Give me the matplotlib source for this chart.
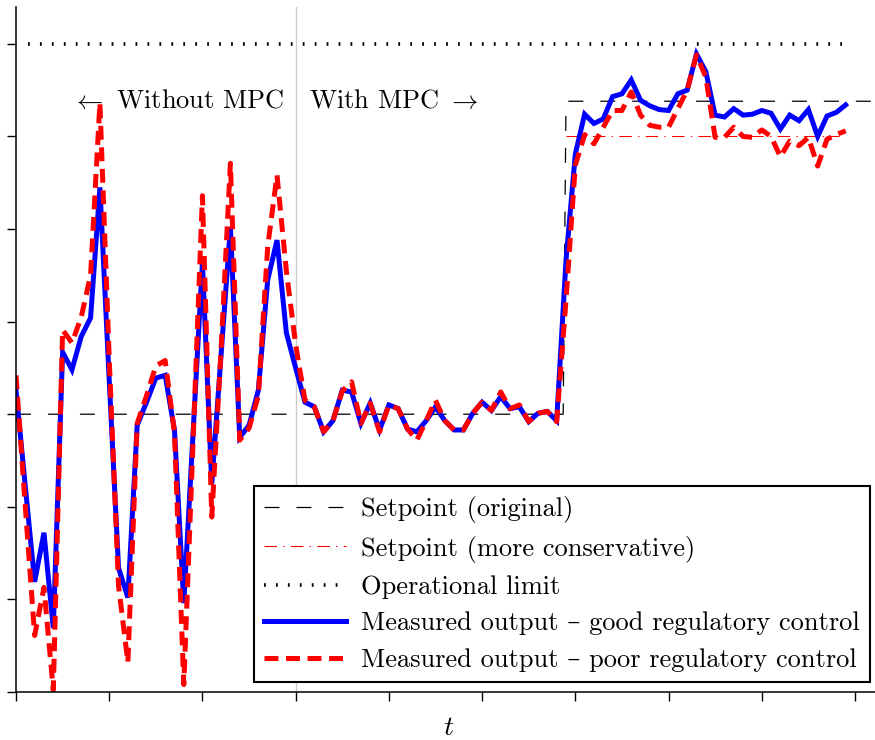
import matplotlib
matplotlib.use("Agg")
import matplotlib.pyplot as plt
import numpy as np

plt.rcParams['font.family'] = ['cmr10', 'DejaVu Serif']
plt.rcParams['mathtext.fontset'] = 'cm'
plt.rcParams['axes.unicode_minus'] = False
plt.rcParams['lines.scale_dashes'] = False

# ---- data ----
t = list(range(0, 90))
good = [0.26, -0.78, -1.81, -1.28, -2.31, 0.67, 0.48, 0.84, 1.04, 2.45,
        0.37, -1.66, -1.98, -0.12, 0.13, 0.39, 0.42, -0.17, -2.04, -0.19,
        1.64, -0.75, 0.64, 2.02, -0.25, -0.12, 0.26, 1.45, 1.88, 0.88,
        0.50, 0.13, 0.08, -0.19, -0.07, 0.26, 0.24, -0.10, 0.12, -0.17,
        0.10, 0.06, -0.16, -0.19, -0.07, 0.08, -0.07, -0.17, -0.17, 0.01,
        0.13, 0.04, 0.19, 0.06, 0.08, -0.08, 0.01, 0.03, -0.07, 1.66,
        2.81, 3.24, 3.14, 3.19, 3.43, 3.46, 3.61, 3.39, 3.33, 3.29,
        3.28, 3.46, 3.50, 3.89, 3.70, 3.23, 3.21, 3.30, 3.23, 3.24,
        3.28, 3.25, 3.08, 3.23, 3.17, 3.29, 3.00, 3.22, 3.26, 3.34]
poor = [0.42, -1.00, -2.39, -1.87, -2.98, 0.91, 0.77, 1.05, 1.50, 3.36,
        0.60, -1.85, -2.68, -0.10, 0.20, 0.52, 0.58, -0.20, -2.92, -0.28,
        2.36, -1.11, 0.70, 2.71, -0.28, -0.15, 0.20, 1.81, 2.58, 1.55,
        0.75, 0.15, 0.08, -0.19, -0.07, 0.25, 0.35, -0.10, 0.12, -0.19,
        0.10, 0.06, -0.16, -0.28, -0.07, 0.15, -0.07, -0.17, -0.17, 0.01,
        0.13, 0.04, 0.24, 0.06, 0.10, -0.08, 0.01, 0.03, -0.08, 1.23,
        2.69, 3.02, 2.92, 3.10, 3.28, 3.28, 3.48, 3.23, 3.12, 3.10,
        3.10, 3.30, 3.50, 3.88, 3.64, 2.99, 2.99, 3.10, 3.00, 2.99,
        3.07, 3.00, 2.78, 2.95, 2.90, 2.99, 2.68, 2.97, 3.02, 3.06]
sp_orig_t = [0, 58.7, 59, 92]
sp_orig_y = [0, 0, 3.38, 3.38]
sp_cons_t = [59, 88.3]
sp_cons_y = [3.0, 3.0]
limit_t = [1.3, 89.5]
limit_y = [4.0, 4.0]
mpc_switch = 30
xticks = list(range(0, 100, 10))
yticks = list(range(-3, 5))

# ---- figure ----
W, H = 875, 740
FS = 19
fig = plt.figure(figsize=(W / 100, H / 100), dpi=100)
ax = fig.add_axes([16 / W, 1 - 692 / H, 866 / W, 685.2 / H])
ax.set_xlim(0, 92.9)
ax.set_ylim(-3, 4.4)

ax.axvline(mpc_switch, color='#cccccc', lw=1.0, zorder=0)

l1, = ax.plot(sp_orig_t, sp_orig_y, color='black', lw=0.9,
              linestyle=(0, (10.8, 12.2)), label='Setpoint (original)')
l2, = ax.plot(sp_cons_t, sp_cons_y, color='red', lw=0.75,
              linestyle=(0, (9, 4.5, 1, 4.5)), label='Setpoint (more conservative)')
l3, = ax.plot(limit_t, limit_y, color='black', lw=2.6,
              linestyle=(0, (1.3, 7.3)), label='Operational limit')
l4, = ax.plot(t, good, color='#0000ff', lw=3.6, solid_joinstyle='miter',
              label='Measured output – good regulatory control')
l5, = ax.plot(t, poor, color='#ff0000', lw=3.6,
              linestyle=(0, (10, 5.5)),
              label='Measured output – poor regulatory control')

for s in ['top', 'right']:
    ax.spines[s].set_visible(False)
for s in ['left', 'bottom']:
    ax.spines[s].set_linewidth(1.1)
ax.set_xticks(xticks)
ax.set_yticks(yticks)
ax.tick_params(direction='out', length=6.5, width=1.0, labelbottom=False,
               labelleft=False)

ax.text(mpc_switch - 1.2, 3.38, r'$\leftarrow$ Without MPC', ha='right',
        va='center', fontsize=FS)
ax.text(mpc_switch + 1.4, 3.38, r'With MPC $\rightarrow$', ha='left',
        va='center', fontsize=FS)
ax.set_xlabel(r'$t$', fontsize=FS + 1, labelpad=9.5)

leg = ax.legend(handles=[l1, l2, l3, l4, l5], loc='upper left',
                bbox_to_anchor=(254 / W, 1 - 486 / H),
                bbox_transform=fig.transFigure, borderaxespad=0,
                fontsize=FS, frameon=True, fancybox=False, framealpha=1,
                edgecolor='black', handlelength=3.1, handletextpad=0.57,
                labelspacing=0.48, borderpad=0.38)
leg.get_frame().set_linewidth(1.5)

fig.savefig('out.png', dpi=100)
